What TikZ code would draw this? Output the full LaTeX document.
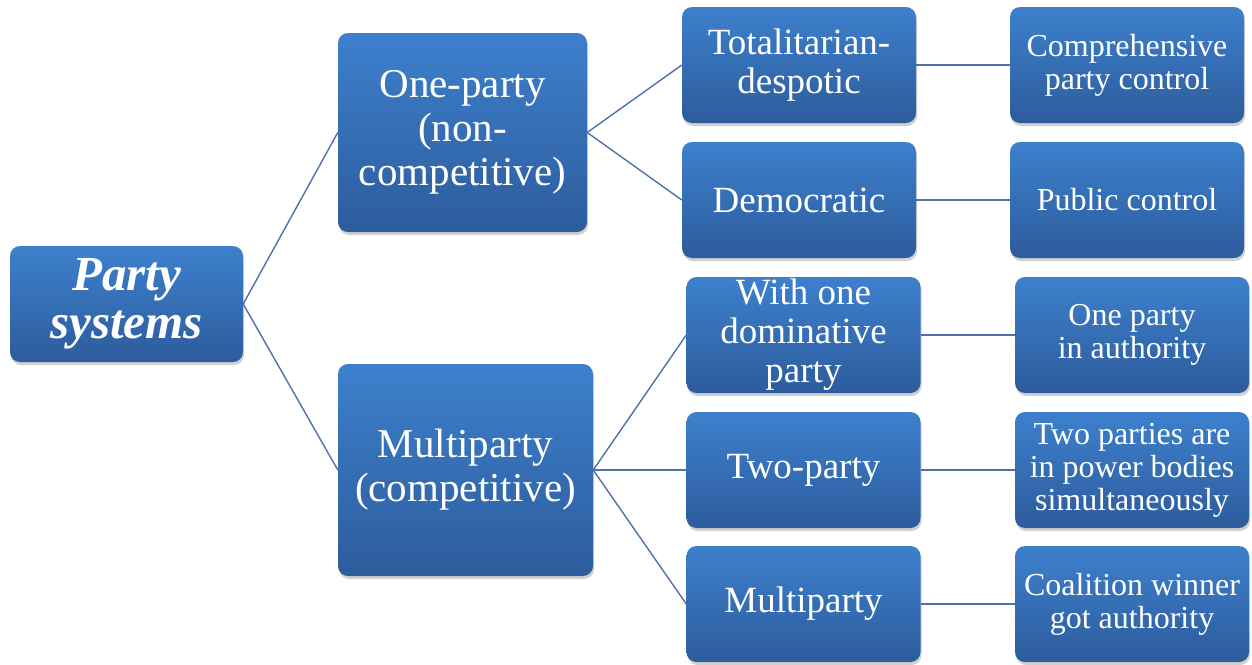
\documentclass[tikz,border=0pt]{standalone}
\usepackage{fontspec}
\setmainfont{Liberation Serif}
\usetikzlibrary{shadows}
\definecolor{boxtop}{RGB}{61,128,205}
\definecolor{boxbot}{RGB}{45,92,156}
\definecolor{linkc}{RGB}{79,114,168}
\tikzset{
  pbox/.style={rounded corners=10pt, top color=boxtop, bottom color=boxbot,
    draw=none, text=white, align=center, inner sep=0pt,
    drop shadow={opacity=0.3, shadow xshift=1pt, shadow yshift=-3pt, fill=black!60}},
  rootbox/.style={pbox, minimum width=233pt, minimum height=116pt,
    font=\fontsize{49}{48}\selectfont\bfseries\itshape},
  lvtwo/.style={pbox, minimum width=251pt, minimum height=200pt,
    font=\fontsize{41}{44}\selectfont},
  lvthree/.style={pbox, minimum width=234pt, minimum height=116pt,
    font=\fontsize{37}{39}\selectfont},
  lvfour/.style={pbox, minimum width=234pt, minimum height=116pt,
    font=\fontsize{32}{33}\selectfont},
  link/.style={draw=linkc, line width=1.4pt}
}
\begin{document}
\begin{tikzpicture}[x=1pt,y=1pt]
\useasboundingbox (0,0) rectangle (1252,-664);
% level 1
\node[rootbox] (root) at (126.5,-304) {Party\\systems};
% level 2
\node[lvtwo, minimum width=249pt, minimum height=199pt] (one) at (462.5,-132.5) {One-party\\(non-\\competitive)};
\node[lvtwo, minimum width=255pt, minimum height=212pt] (multi) at (465.5,-470) {Multiparty\\(competitive)};
% level 3
\node[lvthree] (tot) at (799,-65) {Totalitarian-\\despotic};
\node[lvthree] (dem) at (799,-200) {Democratic};
\node[lvthree] (dom) at (803.5,-335) {With one\\dominative\\party};
\node[lvthree] (two) at (803.5,-470) {Two-party};
\node[lvthree] (mp) at (803.5,-604) {Multiparty};
% level 4
\node[lvfour] (comp) at (1127,-65) {Comprehensive\\party control};
\node[lvfour] (pub) at (1127,-200) {Public control};
\node[lvfour] (auth) at (1132,-335) {One party\\in authority};
\node[lvfour] (pow) at (1132,-470) {Two parties are\\in power bodies\\simultaneously};
\node[lvfour] (coal) at (1132,-604) {Coalition winner\\got authority};
% connectors
\draw[link] (root.east) -- (one.west);
\draw[link] (root.east) -- (multi.west);
\draw[link] (one.east) -- (tot.west);
\draw[link] (one.east) -- (dem.west);
\draw[link] (multi.east) -- (dom.west);
\draw[link] (multi.east) -- (two.west);
\draw[link] (multi.east) -- (mp.west);
\draw[link] (tot.east) -- (comp.west);
\draw[link] (dem.east) -- (pub.west);
\draw[link] (dom.east) -- (auth.west);
\draw[link] (two.east) -- (pow.west);
\draw[link] (mp.east) -- (coal.west);
\end{tikzpicture}
\end{document}
